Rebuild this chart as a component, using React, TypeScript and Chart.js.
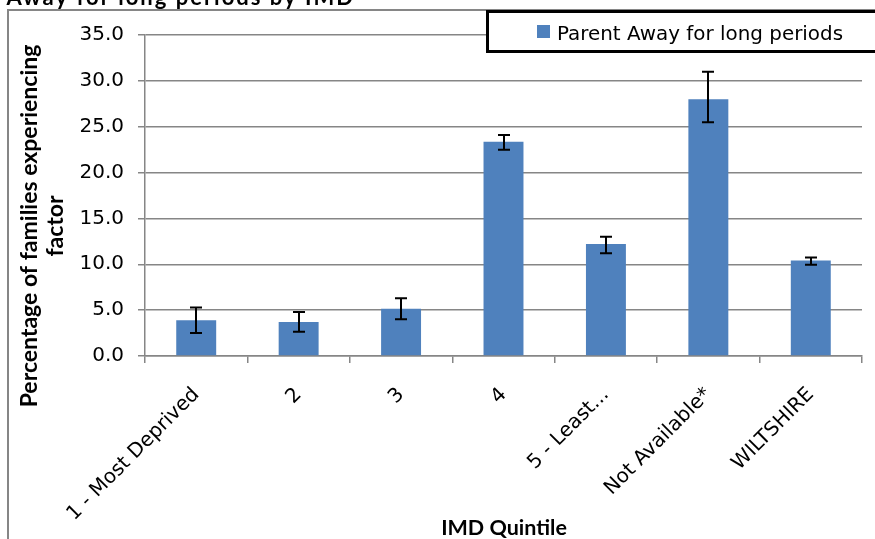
import React, { useEffect, useRef } from 'react';
import { Chart, registerables } from 'chart.js';

Chart.register(...registerables);

const chartTitle = 'Parent Away for long periods by IMD';
const seriesLabel = 'Parent Away for long periods';
const categories = ['1 - Most Deprived', '2', '3', '4', '5 - Least...', 'Not Available*', 'WILTSHIRE'];
const values = [3.9, 3.7, 5.15, 23.35, 12.2, 28.0, 10.4];
const errHigh = [5.3, 4.8, 6.3, 24.1, 13.0, 31.0, 10.75];
const errLow = [2.5, 2.65, 4.0, 22.5, 11.2, 25.5, 9.95];
const yTitleLines = ['Percentage of families experiencing', 'factor'];
const xTitle = 'IMD Quintile';

const FONT = "'DejaVu Sans', 'Liberation Sans', sans-serif";
const BOLD_FONT = "Lato, 'Liberation Sans', sans-serif";
const GRID = '#868686';
const BAR = '#4F81BD';

const decorPlugin = {
  id: 'decor',
  beforeDraw(chart: any) {
    const c = chart.ctx;
    c.save();
    c.fillStyle = '#ffffff';
    c.fillRect(0, 0, chart.width, chart.height);
    // outer chart frame
    c.strokeStyle = GRID;
    c.lineWidth = 2;
    c.strokeRect(8, 10, chart.width + 20, chart.height + 20);
    // title (cut off at top)
    c.fillStyle = '#000';
    c.font = `bold 22px ${BOLD_FONT}`;
    try {
      (c as any).letterSpacing = '2px';
    } catch (e) {}
    c.textAlign = 'right';
    c.textBaseline = 'alphabetic';
    c.fillText(chartTitle, 355, 5);
    try {
      (c as any).letterSpacing = '0px';
    } catch (e) {}
    c.restore();
  },
  afterDatasetsDraw(chart: any) {
    const c = chart.ctx;
    const meta = chart.getDatasetMeta(0);
    const ys = chart.scales.y;
    c.save();
    c.strokeStyle = '#000';
    c.lineWidth = 2;
    meta.data.forEach((bar: any, i: number) => {
      const x = Math.round(bar.x);
      const yh = ys.getPixelForValue(errHigh[i]);
      const yl = ys.getPixelForValue(errLow[i]);
      c.beginPath();
      c.moveTo(x, yh);
      c.lineTo(x, yl);
      c.moveTo(x - 6, yh);
      c.lineTo(x + 6, yh);
      c.moveTo(x - 6, yl);
      c.lineTo(x + 6, yl);
      c.stroke();
    });
    c.restore();
  },
  afterDraw(chart: any) {
    const c = chart.ctx;
    c.save();
    // legend box
    c.fillStyle = '#fff';
    c.fillRect(487, 11, 400, 41);
    c.strokeStyle = '#000';
    c.lineWidth = 3;
    c.strokeRect(487.5, 11.5, 420, 40);
    c.fillStyle = BAR;
    c.fillRect(537, 25, 13, 13);
    c.fillStyle = '#000';
    c.font = `19.9px ${FONT}`;
    c.textAlign = 'left';
    c.textBaseline = 'alphabetic';
    c.fillText(chart.data.datasets[0].label, 557, 39.5);
    // y title
    c.font = `bold 23px ${BOLD_FONT}`;
    c.textAlign = 'center';
    const baseXs = [37, 63];
    yTitleLines.forEach((line, i) => {
      c.save();
      c.translate(baseXs[i], 226);
      c.rotate(-Math.PI / 2);
      c.fillText(line, 0, 0);
      c.restore();
    });
    // x title
    c.font = `bold 21.5px ${BOLD_FONT}`;
    c.textAlign = 'center';
    c.fillText(xTitle, 504, 534.5);
    c.restore();
  },
};

export default function App() {
  const ref = useRef<HTMLCanvasElement>(null);
  useEffect(() => {
    document.body.style.margin = '0';
    const canvas = ref.current!;
    const chart = new Chart(canvas, {
      type: 'bar',
      data: {
        labels: categories,
        datasets: [
          {
            label: seriesLabel,
            data: values,
            backgroundColor: BAR,
            borderWidth: 0,
            barPercentage: 0.39,
            categoryPercentage: 1,
          },
        ],
      },
      options: {
        responsive: false,
        animation: false,
        layout: { padding: { left: 0, top: 35, right: 13, bottom: 0 } },
        plugins: {
          legend: { display: false },
          title: { display: false },
          tooltip: { enabled: false },
        },
        scales: {
          x: {
            afterFit: (s: any) => {
              s.height = 183;
            },
            grid: { drawOnChartArea: false, drawTicks: true, tickLength: 7, color: GRID, lineWidth: 1.5 },
            border: { display: true, color: GRID, width: 1.5 },
            ticks: {
              autoSkip: false,
              minRotation: 45,
              maxRotation: 45,
              padding: 20,
              color: '#000',
              font: { family: FONT, size: 20 },
            },
          },
          y: {
            min: 0,
            max: 35,
            afterFit: (s: any) => {
              s.width = 145;
            },
            grid: { color: GRID, lineWidth: 1.5, tickLength: 7 },
            border: { display: true, color: GRID, width: 1.5 },
            ticks: {
              stepSize: 5,
              padding: 14,
              color: '#000',
              font: { family: FONT, size: 20 },
              callback: (v: any) => Number(v).toFixed(1),
            },
          },
        },
      },
      plugins: [decorPlugin],
    });
    return () => chart.destroy();
  }, []);
  return (
    <div style={{ width: 875, height: 539 }}>
      <canvas ref={ref} width={875} height={539} style={{ display: 'block' }} />
    </div>
  );
}
